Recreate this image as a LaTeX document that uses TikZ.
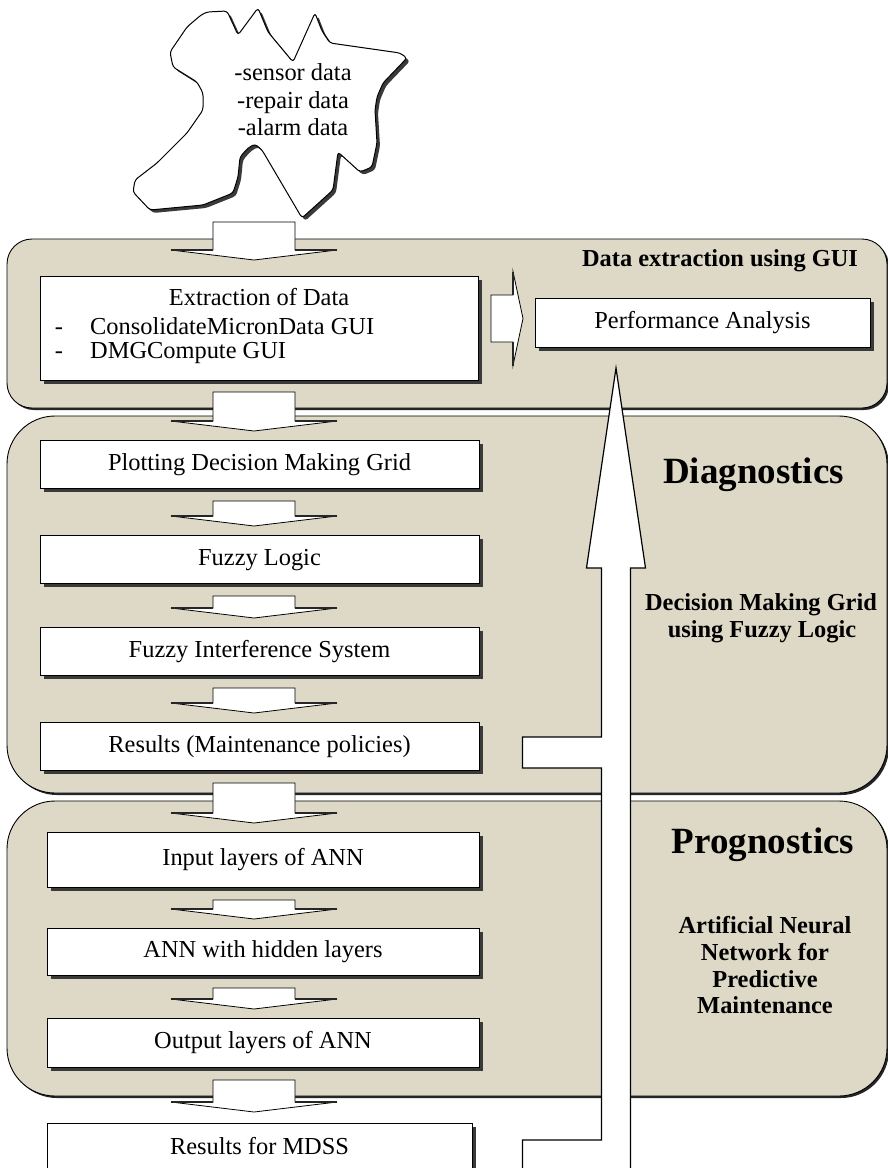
\documentclass[tikz,border=0pt]{standalone}
\usepackage{fontspec}
\setmainfont{Liberation Serif}
\usetikzlibrary{calc,shadows}

\definecolor{panelfill}{RGB}{222,217,199}
\definecolor{shadowgray}{RGB}{58,58,58}

\newcommand\bxfont{\fontsize{24.4}{27}\selectfont}
\newcommand\ttlfont{\fontsize{24.4}{27}\selectfont\bfseries}
\newcommand\bigttlfont{\fontsize{37}{40}\selectfont\bfseries}

\tikzset{
  panel/.style={draw=black, line width=0.9pt, fill=panelfill, inner sep=0pt, outer sep=0pt,
    drop shadow={shadow xshift=2pt, shadow yshift=-2pt, fill=black!85, opacity=1}},
  stepbox/.style={draw=black, line width=0.8pt, fill=white, inner sep=0pt, outer sep=0pt,
    text height=17pt, text depth=5pt, font=\bxfont,
    drop shadow={shadow xshift=4pt, shadow yshift=-4pt, fill=shadowgray, opacity=1}},
  plaintext/.style={inner sep=0pt, font=\bxfont},
  ttltext/.style={inner sep=0pt, font=\ttlfont},
  bigttl/.style={inner sep=0pt, font=\bigttlfont},
  blockarrow/.style={draw=black, line width=0.8pt, fill=white, line join=miter},
  headedge/.style={draw=black!85, line width=2pt, line cap=butt},
}

% wide flat-headed block arrow pointing down: #1 top of stem, #2 tip
\newcommand\blockdown[2]{%
  \path[blockarrow] let \p1=#1, \p2=#2 in
    (\x1-41pt,\y1) -- (\x1+41pt,\y1) -- (\x1+41pt,\y2+10pt) -- (\x1+83pt,\y2+10pt)
    -- (\x1,\y2) -- (\x1-83pt,\y2+10pt) -- (\x1-41pt,\y2+10pt) -- cycle;
  \path[headedge] let \p1=#1, \p2=#2 in
    (\x1+41pt,\y2+10pt) -- (\x1+83pt,\y2+10pt)
    (\x1-41pt,\y2+10pt) -- (\x1-83pt,\y2+10pt);
}

% block arrow pointing right: #1 start of stem (mid height), #2 tip
\newcommand\blockright[2]{%
  \path[blockarrow] let \p1=#1, \p2=#2 in
    (\x1,\y1+23.5pt) -- (\x2-10pt,\y1+23.5pt) -- (\x2-10pt,\y1+47pt) -- (\x2,\y1)
    -- (\x2-10pt,\y1-47pt) -- (\x2-10pt,\y1-23.5pt) -- (\x1,\y1-23.5pt) -- cycle;
  \path[headedge, line width=1.6pt] let \p1=#1, \p2=#2 in
    (\x2-10pt,\y1+23.5pt) -- (\x2-10pt,\y1+47pt)
    (\x2-10pt,\y1-23.5pt) -- (\x2-10pt,\y1-47pt);
}

% outline of the data cloud
\newcommand\cloudoutline{(201,15) -- (207,12) -- (227,11) -- (238,35) -- (258,8)
  -- (268,32) -- (293,62) -- (315,13) -- (322,31) -- (330,43) -- (365,48) -- (400,53)
  -- (407,58) -- (383,83) -- (377,97) -- (375,110) -- (377,143) -- (372,167)
  -- (360,172) -- (338,152) -- (333,190) -- (302,218) -- (262,150) -- (255,144)
  -- (248,148) -- (240,157) -- (238,177) -- (233,193) -- (203,205) -- (150,210)
  -- (133,192) -- (135,180) -- (157,163) -- (187,133) -- (203,110) -- (203,93)
  -- (197,82) -- (173,67) -- (170,52) -- (187,27) -- cycle}

\begin{document}
\begin{tikzpicture}[x=1pt,y=-1pt]
\useasboundingbox (0,0) rectangle (888,1168);
\clip (0,0) rectangle (888,1168);
\coordinate (spine) at (254,0);

% ---- stage panels ----
\node[panel, rounded corners=25pt, minimum width=880pt, minimum height=169pt] (p1) at (447,323.5) {};
\node[panel, rounded corners=48pt, minimum width=880pt, minimum height=377pt] (p2) at (447,604.5) {};
\node[panel, rounded corners=48pt, minimum width=880pt, minimum height=295pt] (p3) at (447,948.5) {};

% ---- raw data cloud ----
\fill[shadowgray, xshift=3pt, yshift=-3pt, rounded corners=3pt] \cloudoutline;
\draw[fill=white, line width=1pt, rounded corners=3pt] \cloudoutline;
\node[plaintext, anchor=base] (c1) at (293,80) {-sensor data};
\node[plaintext, anchor=base] (c2) at (293,108) {-repair data};
\node[plaintext, anchor=base] (c3) at (293,135) {-alarm data};
\coordinate (cloudbase) at (254,222);

% ---- panel titles ----
\node[ttltext, anchor=base] (t1) at (720,266) {Data extraction using GUI};
\node[bigttl, anchor=base] (t2) at (753.5,483) {Diagnostics};
\node[ttltext, anchor=base] (t2a) at (761,610) {Decision Making Grid};
\node[ttltext, anchor=base] (t2b) at (762,637) {using Fuzzy Logic};
\node[bigttl, anchor=base] (t3) at (763,853) {Prognostics};
\node[ttltext, anchor=base] (t3a) at (765,933) {Artificial Neural};
\node[ttltext, anchor=base] (t3b) at (765,960) {Network for};
\node[ttltext, anchor=base] (t3c) at (765,987) {Predictive};
\node[ttltext, anchor=base] (t3d) at (765,1013) {Maintenance};

% ---- process boxes ----
\node[stepbox, minimum width=438pt, minimum height=104pt] (ext) at (259,328) {};
\node[plaintext, anchor=base] (exttitle) at (259,305) {Extraction of Data};
\node[plaintext, anchor=base] (d1) at (59,334) {-};
\node[plaintext, anchor=base west] (e1) at (90,334) {ConsolidateMicronData GUI};
\node[plaintext, anchor=base] (d2) at (59,358) {-};
\node[plaintext, anchor=base west] (e2) at (90,358) {DMGCompute GUI};

\node[stepbox, minimum width=335pt, minimum height=49pt] (perf) at (702.5,322.5) {Performance Analysis};

\node[stepbox, minimum width=439pt, minimum height=48pt] (plot) at (259.5,464) {Plotting Decision Making Grid};
\node[stepbox, minimum width=439pt, minimum height=48pt] (fuzzy) at (259.5,559) {Fuzzy Logic};
\node[stepbox, minimum width=439pt, minimum height=48pt] (fis) at (259.5,651) {Fuzzy Interference System};
\node[stepbox, minimum width=439pt, minimum height=48pt] (res) at (259.5,746) {Results (Maintenance policies)};

\node[stepbox, minimum width=432pt, minimum height=55pt] (inp) at (263,859.5) {Input layers of ANN};
\node[stepbox, minimum width=432pt, minimum height=47pt] (hid) at (263,951.5) {ANN with hidden layers};
\node[stepbox, minimum width=432pt, minimum height=49pt] (outl) at (263,1042.5) {Output layers of ANN};
\node[stepbox, minimum width=425pt, minimum height=50pt] (mdss) at (259.5,1148) {Results for MDSS};

% ---- downward flow arrows ----
\blockdown{(cloudbase)}{($(ext.north -| spine)+(0,-16)$)}
\blockdown{($(ext.south -| spine)+(0,12)$)}{($(plot.north -| spine)+(0,-9)$)}
\blockdown{($(plot.south -| spine)+(0,13)$)}{($(fuzzy.north -| spine)+(0,-9)$)}
\blockdown{($(fuzzy.south -| spine)+(0,13)$)}{($(fis.north -| spine)+(0,-9)$)}
\blockdown{($(fis.south -| spine)+(0,13)$)}{($(res.north -| spine)+(0,-9)$)}
\blockdown{($(res.south -| spine)+(0,13)$)}{($(inp.north -| spine)+(0,-9)$)}
\blockdown{($(inp.south -| spine)+(0,13)$)}{($(hid.north -| spine)+(0,-9)$)}
\blockdown{($(hid.south -| spine)+(0,13)$)}{($(outl.north -| spine)+(0,-9)$)}
\blockdown{($(outl.south -| spine)+(0,13)$)}{($(mdss.north -| spine)+(0,-11)$)}

% ---- extraction feeds performance analysis ----
\blockright{($(ext.east)+(13,-9.5)$)}{($(perf.west)+(-12,-4)$)}

% ---- feedback of results up to performance analysis ----
\coordinate (fbtip) at ($(perf.south)+(-86.5,21)$);
\path[blockarrow, line width=1.2pt] let \p0=(fbtip), \p1=(res.east), \p2=(mdss.east) in
  (\x0+14.5pt,\y2-40pt) -- (\x0+14.5pt,\y0-200pt) -- (\x0+29.5pt,\y0-200pt) -- (\x0,\y0)
  -- (\x0-29.5pt,\y0-200pt) -- (\x0-14.5pt,\y0-200pt) -- (\x0-14.5pt,\y1+9pt)
  -- (\x1+43.5pt,\y1+9pt) -- (\x1+43.5pt,\y1-22pt) -- (\x0-14.5pt,\y1-22pt)
  -- (\x0-14.5pt,\y2+8pt) -- (\x1+43.5pt,\y2+8pt) -- (\x1+43.5pt,\y2-40pt) -- cycle;
\end{tikzpicture}
\end{document}
